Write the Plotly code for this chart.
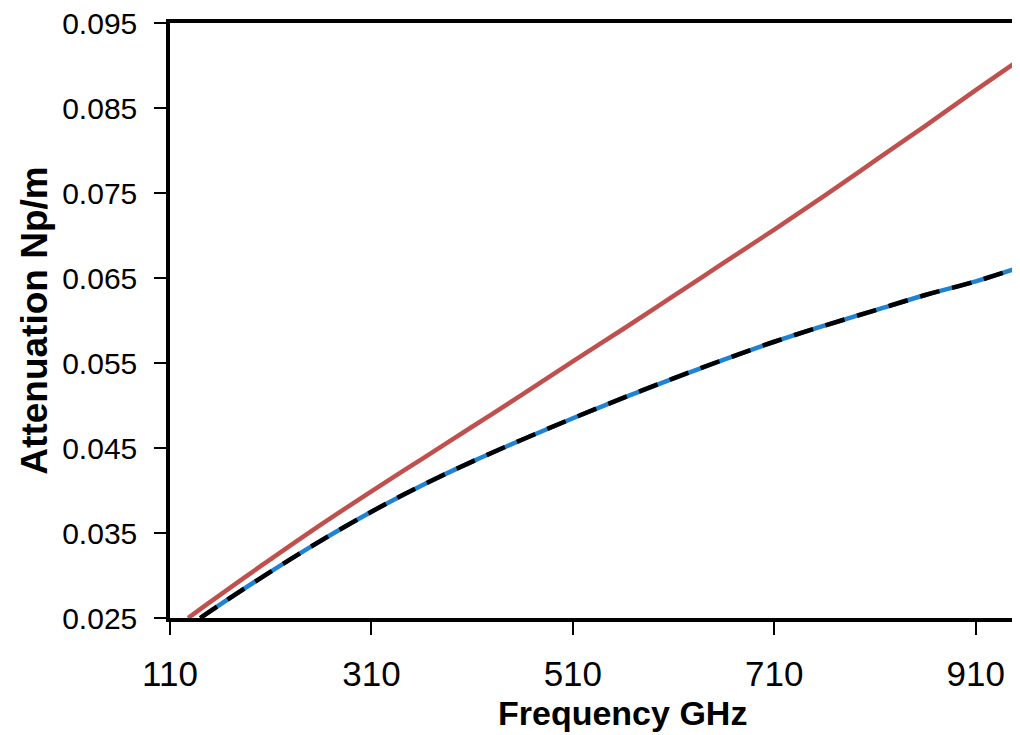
import plotly.graph_objects as go

FREQ_RED = [128, 150, 200, 250, 310, 360, 410, 460, 510, 560, 610, 660, 710, 760, 810, 860, 910, 950]
ATTEN_RED = [0.0250, 0.0269, 0.0311, 0.0352, 0.0399, 0.0437, 0.0475, 0.0513, 0.0552,
             0.0590, 0.0629, 0.0668, 0.0707, 0.0747, 0.0788, 0.0829, 0.0871, 0.0904]

FREQ_BLUE = [140, 160, 200, 250, 310, 360, 410, 460, 510, 560, 610, 660, 710, 760, 810, 860, 910, 950]
ATTEN_BLUE = [0.0250, 0.0266, 0.0297, 0.0334, 0.0375, 0.0406, 0.0434, 0.0460, 0.0485,
              0.0509, 0.0532, 0.0554, 0.0575, 0.0594, 0.0612, 0.0630, 0.0646, 0.0661]
ATTEN_BLACK = ATTEN_BLUE

X_TICKS = [110, 310, 510, 710, 910]
Y_TICKS = [0.025, 0.035, 0.045, 0.055, 0.065, 0.075, 0.085, 0.095]

fig = go.Figure()
fig.add_trace(go.Scatter(x=FREQ_RED, y=ATTEN_RED, mode="lines",
                         line=dict(color="#C0504D", width=4.5, shape="spline")))
fig.add_trace(go.Scatter(x=FREQ_BLUE, y=ATTEN_BLUE, mode="lines",
                         line=dict(color="#1f82d2", width=4.5, shape="spline")))
fig.add_trace(go.Scatter(x=FREQ_BLUE, y=ATTEN_BLACK, mode="lines",
                         line=dict(color="black", width=4.5, shape="spline", dash="20px,13px")))

# the page puts the figure 8px in from the top-left, so the margins allow for it
font = "Liberation Sans, Arial, sans-serif"
fig.update_layout(
    width=1020,
    height=735,
    showlegend=False,
    plot_bgcolor="white",
    paper_bgcolor="white",
    margin=dict(l=162, r=12, t=15, b=125),
    font=dict(family=font, size=30, color="black"),
)
fig.update_xaxes(
    range=[110, 950],
    tickvals=X_TICKS,
    ticks="outside",
    ticklen=13,
    tickwidth=1.5,
    tickcolor="black",
    showgrid=False,
    zeroline=False,
    showline=True,
    linewidth=3.5,
    linecolor="black",
    mirror=True,
    automargin=False,
    ticklabelstandoff=9,
    ticklabeloverflow="allow",
    tickfont=dict(size=35),
)
fig.update_yaxes(
    range=[0.025, 0.095],
    tickvals=Y_TICKS,
    tickformat=".3f",
    ticks="outside",
    ticklen=12,
    tickwidth=1.5,
    tickcolor="black",
    showgrid=False,
    zeroline=False,
    showline=True,
    linewidth=3.5,
    linecolor="black",
    mirror=True,
    automargin=False,
    ticklabelstandoff=11,
    ticklabeloverflow="allow",
    tickfont=dict(size=30),
    title=dict(text="<b>Attenuation Np/m</b>", font=dict(size=37), standoff=4),
)

# x title sits a little right of the plot centre in the original
fig.add_annotation(
    text="<b>Frequency GHz</b>",
    xref="paper", yref="paper",
    x=0.535, y=0, yshift=-95,
    xanchor="center", yanchor="middle",
    showarrow=False,
    font=dict(size=34),
)

fig.write_html("out.html")
